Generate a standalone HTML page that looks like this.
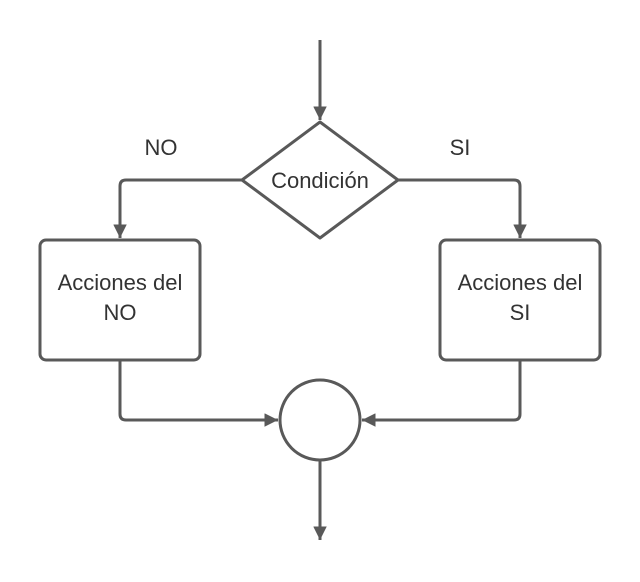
<!DOCTYPE html>
<html><head><style>body{margin:0;background:#fff}</style></head><body>
<svg width="640" height="577" xmlns="http://www.w3.org/2000/svg" font-family="Liberation Sans, sans-serif">
<defs><marker id="a" viewBox="0 0 10 10" refX="10" refY="5" markerWidth="4.5" markerHeight="4.5" orient="auto" markerUnits="strokeWidth"><path d="M0,0L10,5L0,10z" fill="#595959"/></marker></defs>
<g stroke="#595959" stroke-width="3" fill="none">
<line x1="320" y1="40" x2="320" y2="120" marker-end="url(#a)"/>
<path d="M320,122 L398,180 L320,238 L242,180 Z" stroke-linejoin="round" fill="#fff"/>
<path d="M242,180 H126 Q120,180 120,186 V238" marker-end="url(#a)"/>
<path d="M398,180 H514 Q520,180 520,186 V238" marker-end="url(#a)"/>
<rect x="40" y="240" width="160" height="120" rx="6" fill="#fff"/>
<rect x="440" y="240" width="160" height="120" rx="6" fill="#fff"/>
<path d="M120,360 V414 Q120,420 126,420 H278" marker-end="url(#a)"/>
<path d="M520,360 V414 Q520,420 514,420 H362" marker-end="url(#a)"/>
<circle cx="320" cy="420" r="40" fill="#fff"/>
<line x1="320" y1="460" x2="320" y2="540" marker-end="url(#a)"/>
</g>
<g fill="#333" font-size="22" text-anchor="middle">
<text x="320" y="188">Condición</text>
<text x="120" y="290">Acciones del</text>
<text x="120" y="320">NO</text>
<text x="520" y="290">Acciones del</text>
<text x="520" y="320">SI</text>
<text x="161" y="155">NO</text>
<text x="460" y="155">SI</text>
</g>
</svg>
</body></html>
